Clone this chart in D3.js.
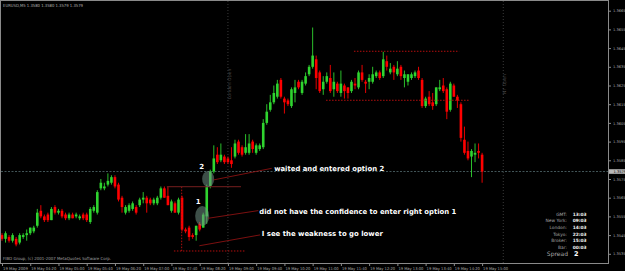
<!DOCTYPE html>
<html><head><meta charset="utf-8">
<script src="https://cdn.jsdelivr.net/npm/d3@7"></script>
<style>html,body{margin:0;padding:0;background:#000;overflow:hidden}svg{display:block}</style>
</head><body>
<svg id="c" width="625" height="271"></svg>
<script>
// ---- data (EURUSD M5, 19 May 2009, bars from 03:40 to 15:00) ----
const opens = [
1.3545,1.3543,1.3544,1.3542,1.3543,1.3541,1.3544,1.3545,1.3546,1.3547,
1.3550,1.3558,1.3555,1.3556,1.3553,1.3560,1.3557,1.3558,1.3556,1.3554,
1.3556,1.3555,1.3554,1.3556,1.3556,1.3552,1.3558,1.3557,1.3570,1.3570,
1.3572,1.3573,1.3576,1.3572,1.3565,1.3557,1.3558,1.3559,1.3560,1.3561,
1.3564,1.3565,1.3564,1.3562,1.3562,1.3565,1.3570,1.3566,1.3558,1.3562,
1.3557,1.3565,1.3548,1.3549,1.3545,1.3545,1.3551,1.3549,1.3555,1.3571,
1.3579,1.3588,1.3585,1.3587,1.3586,1.3585,1.3587,1.3595,1.3592,1.3589,
1.3589,1.3595,1.3589,1.3591,1.3592,1.3605,1.3612,1.3616,1.3619,1.3628,
1.3618,1.3617,1.3614,1.3621,1.3627,1.3621,1.3626,1.3631,1.3635,1.3639,
1.3632,1.3623,1.3627,1.3629,1.3623,1.3626,1.3621,1.3625,1.3624,1.3622,
1.3626,1.3624,1.3632,1.3627,1.3627,1.3627,1.3630,1.3632,1.3630,1.3638,
1.3632,1.3635,1.3631,1.3635,1.3629,1.3627,1.3629,1.3630,1.3633,1.3628,
1.3614,1.3619,1.3616,1.3615,1.3623,1.3625,1.3623,1.3612,1.3625,1.3619,
1.3615,1.3596,1.3590,1.3587,1.3588,1.3590,1.3588];
const highs = [
1.3546,1.3547,1.3545,1.3546,1.3544,1.3546,1.3546,1.3548,1.3549,1.3550,
1.3559,1.3561,1.3556,1.3557,1.3560,1.3561,1.3559,1.3559,1.3557,1.3557,
1.3557,1.3557,1.3556,1.3557,1.3557,1.3560,1.3561,1.3569,1.3575,1.3573,
1.3578,1.3577,1.3577,1.3573,1.3566,1.3561,1.3562,1.3563,1.3561,1.3565,
1.3568,1.3566,1.3565,1.3565,1.3566,1.3571,1.3571,1.3571,1.3564,1.3563,
1.3565,1.3566,1.3549,1.3550,1.3546,1.3550,1.3552,1.3557,1.3572,1.3580,
1.3593,1.3592,1.3594,1.3588,1.3587,1.3592,1.3596,1.3596,1.3593,1.3599,
1.3599,1.3596,1.3594,1.3594,1.3607,1.3615,1.3620,1.3625,1.3628,1.3629,
1.3619,1.3618,1.3624,1.3628,1.3628,1.3628,1.3632,1.3636,1.3656,1.3641,
1.3633,1.3630,1.3632,1.3636,1.3632,1.3627,1.3633,1.3626,1.3624,1.3628,
1.3629,1.3633,1.3636,1.3628,1.3631,1.3635,1.3633,1.3633,1.3643,1.3641,
1.3637,1.3636,1.3638,1.3636,1.3633,1.3631,1.3632,1.3633,1.3635,1.3629,
1.3619,1.3622,1.3621,1.3624,1.3628,1.3629,1.3624,1.3627,1.3626,1.3620,
1.3616,1.3603,1.3595,1.3591,1.3594,1.3594,1.3589];
const lows = [
1.3542,1.3541,1.3541,1.3541,1.3539,1.3540,1.3543,1.3542,1.3545,1.3546,
1.3549,1.3554,1.3552,1.3552,1.3553,1.3556,1.3556,1.3554,1.3553,1.3553,
1.3554,1.3554,1.3553,1.3553,1.3552,1.3551,1.3557,1.3556,1.3569,1.3569,
1.3571,1.3572,1.3570,1.3563,1.3557,1.3556,1.3557,1.3558,1.3556,1.3560,
1.3562,1.3557,1.3561,1.3561,1.3561,1.3564,1.3565,1.3561,1.3557,1.3557,
1.3556,1.3547,1.3546,1.3542,1.3543,1.3542,1.3547,1.3549,1.3551,1.3570,
1.3578,1.3583,1.3584,1.3583,1.3583,1.3581,1.3586,1.3588,1.3587,1.3588,
1.3588,1.3589,1.3588,1.3590,1.3591,1.3604,1.3611,1.3615,1.3618,1.3618,
1.3610,1.3614,1.3613,1.3616,1.3623,1.3620,1.3625,1.3630,1.3634,1.3623,
1.3621,1.3620,1.3626,1.3621,1.3619,1.3621,1.3619,1.3618,1.3618,1.3621,
1.3623,1.3623,1.3627,1.3621,1.3623,1.3626,1.3629,1.3628,1.3629,1.3633,
1.3631,1.3628,1.3630,1.3628,1.3624,1.3625,1.3628,1.3629,1.3628,1.3613,
1.3613,1.3614,1.3612,1.3614,1.3622,1.3621,1.3607,1.3611,1.3619,1.3613,
1.3595,1.3588,1.3585,1.3576,1.3584,1.3586,1.3573];
const closes = [
1.3543,1.3546,1.3542,1.3545,1.3540,1.3545,1.3545,1.3546,1.3549,1.3549,
1.3557,1.3555,1.3553,1.3553,1.3559,1.3557,1.3558,1.3555,1.3554,1.3556,
1.3554,1.3556,1.3555,1.3554,1.3553,1.3559,1.3560,1.3568,1.3573,1.3571,
1.3574,1.3576,1.3571,1.3564,1.3560,1.3560,1.3561,1.3562,1.3557,1.3564,
1.3565,1.3562,1.3562,1.3564,1.3565,1.3570,1.3565,1.3561,1.3563,1.3557,
1.3564,1.3548,1.3547,1.3544,1.3544,1.3550,1.3548,1.3556,1.3571,1.3579,
1.3586,1.3584,1.3588,1.3584,1.3584,1.3583,1.3594,1.3589,1.3588,1.3592,
1.3594,1.3591,1.3593,1.3593,1.3605,1.3611,1.3616,1.3621,1.3626,1.3619,
1.3616,1.3615,1.3623,1.3624,1.3624,1.3627,1.3630,1.3635,1.3641,1.3629,
1.3622,1.3627,1.3630,1.3622,1.3627,1.3622,1.3626,1.3622,1.3621,1.3627,
1.3625,1.3632,1.3628,1.3626,1.3629,1.3631,1.3632,1.3629,1.3639,1.3635,
1.3634,1.3632,1.3634,1.3630,1.3631,1.3631,1.3631,1.3632,1.3629,1.3614,
1.3618,1.3615,1.3614,1.3624,1.3624,1.3622,1.3611,1.3626,1.3619,1.3617,
1.3597,1.3589,1.3586,1.3590,1.3589,1.3589,1.3579];

const timeTickBars = [0,8,16,24,32,40,48,56,64,72,80,88,96,104,112,120,128,136];
const timeLabels = ["19 May 2009","19 May 04:20","19 May 05:00","19 May 05:40","19 May 06:20",
  "19 May 07:00","19 May 07:40","19 May 08:20","19 May 09:00","19 May 09:40","19 May 10:20",
  "19 May 11:00","19 May 11:40","19 May 12:20","19 May 13:00","19 May 13:40","19 May 14:20","19 May 15:00"];
const priceTicks = [1.3535,1.3545,1.3555,1.3565,1.3575,1.3585,1.3595,1.3605,1.3615,1.3625,1.3635,1.3645,1.3655,1.3665];
const lastPrice = 1.3579;
const titleText = "EURUSD,M5  1.3580 1.3580 1.3579 1.3579";
const copyrightText = "FIBO Group, (c) 2001-2007 MetaQuotes Software Corp.";

// vertical session lines
const sessionBars = [64, 142];
const sessionNames = ["London Open", "NY Open"];

// trend-line objects: [bar1, price1, bar2, price2]
const levelLines = [[99.7,1.36433,129.5,1.36433],[91.8,1.36171,132.6,1.36171],[48.7,1.35365,68.8,1.35365],[50.9,1.35709,50.9,1.35365]];
const solidLevel = [46.7,1.35709,67.7,1.35709];
const leaderLines = [[59.9,1.35745,76.4,1.35807],[58.4,1.35540,72.6,1.35581],[55.9,1.35393,73.1,1.35451]];
const noteTexts = ["waited and entered option 2","did not have the confidence to enter right option 1","I see the weakness to go lower"];
const noteBars = [77.1, 72.9, 73.6];
const notePrices = [1.35807, 1.35577, 1.35457];
const noteWidths = [110, 197, 121];
const markBars = [58.4, 56.7];
const markPrices = [1.35750, 1.35552];
const markLabels = ["2","1"];
const markLabelBars = [56.6, 55.6];
const markLabelPrices = [1.35814, 1.35627];

const infoLabels = ["GMT:","New York:","London:","Tokyo:","Broker:","Bar:"];
const infoValues = ["13:03","09:03","14:03","22:03","15:03","00:03"];
const spreadValue = "2";

// ---- drawing ----
const svg = d3.select("#c");
const PL = 1, PR = 608, PT = 1, PB = 263;
const x = d3.scaleLinear().domain([0,136]).range([2,482.1]);
const y = d3.scaleLinear().domain([1.3535,1.3665]).range([253.8,10.7]);
const bull = "#2fd42f", bear = "#ff0000";
const font = "'DejaVu Sans', Verdana, sans-serif";

svg.append("rect").attr("width",625).attr("height",271).attr("fill","#000");
svg.append("defs").append("clipPath").attr("id","clip")
  .append("rect").attr("x",PL).attr("y",PT).attr("width",PR-PL).attr("height",PB-PT);
const g = svg.append("g").attr("clip-path","url(#clip)");

// session vertical lines
sessionBars.forEach((b,k)=>{
  g.append("line").attr("x1",x(b)).attr("x2",x(b)).attr("y1",PT).attr("y2",PB)
    .attr("stroke","#3a3a3a").attr("stroke-dasharray","1,2");
  const cy = 84;
  g.append("text").attr("transform",`translate(${x(b)+3.2},${cy}) rotate(-90)`)
    .attr("text-anchor","middle").attr("font-family",font).attr("font-size",4.6)
    .attr("fill","#4a4a4a").text(sessionNames[k]);
});

// current price line
g.append("line").attr("x1",PL).attr("x2",PR).attr("y1",y(lastPrice)).attr("y2",y(lastPrice))
  .attr("stroke","#44575a").attr("stroke-dasharray","2,1.5");

// candles
const bars = d3.range(opens.length).map(i=>({i,o:opens[i],h:highs[i],l:lows[i],c:closes[i]}));
g.selectAll("line.wick").data(bars).join("line").attr("class","wick")
  .attr("x1",d=>x(d.i)).attr("x2",d=>x(d.i))
  .attr("y1",d=>y(d.h)).attr("y2",d=>y(d.l))
  .attr("stroke",d=>d.c>=d.o?bull:bear).attr("stroke-width",0.9);
g.selectAll("rect.body").data(bars).join("rect").attr("class","body")
  .attr("x",d=>x(d.i)-1.3).attr("width",2.6)
  .attr("y",d=>y(Math.max(d.o,d.c)))
  .attr("height",d=>Math.max(1,Math.abs(y(d.o)-y(d.c))))
  .attr("fill",d=>d.c>=d.o?bull:bear);

// level lines
levelLines.forEach(l=>{
  g.append("line").attr("x1",x(l[0])).attr("y1",y(l[1])).attr("x2",x(l[2])).attr("y2",y(l[3]))
    .attr("stroke","#c81010").attr("stroke-width",0.9).attr("stroke-dasharray","1.5,1.5");
});
g.append("line").attr("x1",x(solidLevel[0])).attr("y1",y(solidLevel[1]))
  .attr("x2",x(solidLevel[2])).attr("y2",y(solidLevel[3]))
  .attr("stroke","#5e1818").attr("stroke-width",1.2);

// highlight ellipses
markBars.forEach((b,k)=>{
  g.append("ellipse").attr("cx",x(b)).attr("cy",y(markPrices[k]))
    .attr("rx",k===0?6:7).attr("ry",k===0?8:10)
    .attr("fill","#6f8f84").attr("fill-opacity",0.55);
});
markLabels.forEach((t,k)=>{
  g.append("text").attr("x",x(markLabelBars[k])).attr("y",y(markLabelPrices[k]))
    .attr("dy","0.35em").attr("text-anchor","middle").attr("font-family",font)
    .attr("font-weight","bold").attr("font-size",7).attr("fill","#fff").text(t);
});

// leader lines
leaderLines.forEach(l=>{
  g.append("line").attr("x1",x(l[0])).attr("y1",y(l[1])).attr("x2",x(l[2])).attr("y2",y(l[3]))
    .attr("stroke","#9a1414").attr("stroke-width",0.8);
});
noteTexts.forEach((t,k)=>{
  g.append("text").attr("x",x(noteBars[k])).attr("y",y(notePrices[k])).attr("dy","0.35em")
    .attr("font-family",font).attr("font-weight","bold").attr("font-size",7)
    .attr("textLength",noteWidths[k]).attr("lengthAdjust","spacingAndGlyphs")
    .attr("fill","#fff").text(t);
});

// title & copyright
svg.append("text").attr("x",3).attr("y",6.5).attr("font-family",font).attr("font-size",4.2)
  .attr("fill","#b0b0b0").attr("textLength",80).attr("lengthAdjust","spacingAndGlyphs").text(titleText);
svg.append("text").attr("x",3).attr("y",259.5).attr("font-family",font).attr("font-size",4.2)
  .attr("fill","#a0a0a0").attr("textLength",108).attr("lengthAdjust","spacingAndGlyphs").text(copyrightText);

// info panel
infoLabels.forEach((t,k)=>{
  const yy = 214 + k*6.66;
  svg.append("text").attr("x",567).attr("y",yy).attr("dy","0.35em").attr("text-anchor","end")
    .attr("font-family",font).attr("font-size",4.4).attr("fill","#a8a8a8").text(t);
  svg.append("text").attr("x",572.7).attr("y",yy).attr("dy","0.35em")
    .attr("font-family",font).attr("font-size",4.4).attr("font-weight","bold").attr("fill","#f0f0f0").text(infoValues[k]);
});
svg.append("text").attr("x",568).attr("y",254).attr("dy","0.35em").attr("text-anchor","end")
  .attr("font-family",font).attr("font-size",6).attr("fill","#a8a8a8").text("Spread");
svg.append("text").attr("x",574).attr("y",254).attr("dy","0.35em")
  .attr("font-family",font).attr("font-size",6.5).attr("font-weight","bold").attr("fill","#fff").text(spreadValue);

// frame
svg.append("rect").attr("x",PL+0.5-1).attr("y",PT+0.5-1).attr("width",PR-PL+1).attr("height",PB-PT+1)
  .attr("fill","none").attr("stroke","#8a8a8a").attr("stroke-width",1);

// price axis
const yAxis = svg.append("g").attr("transform",`translate(${PR+0.5},0)`)
  .call(d3.axisRight(y).tickValues(priceTicks).tickSize(2.5).tickPadding(2).tickFormat(d3.format(".4f")));
yAxis.select(".domain").remove();
yAxis.selectAll("line").attr("stroke","#8a8a8a");
yAxis.selectAll("text").attr("font-family",font).attr("font-size",3.6).attr("fill","#a8a8a8");

// current price box
svg.append("rect").attr("x",609).attr("y",y(lastPrice)-2.3).attr("width",16).attr("height",4.6).attr("fill","#b8b8b8");
svg.append("text").attr("x",613.5).attr("y",y(lastPrice)).attr("dy","0.35em").attr("font-family",font)
  .attr("font-size",3.6).attr("fill","#000").text(d3.format(".4f")(lastPrice));

// time axis
const xAxis = svg.append("g").attr("transform",`translate(0,${PB+0.5})`)
  .call(d3.axisBottom(x).tickValues(timeTickBars).tickSize(2.5).tickPadding(1)
    .tickFormat((d,k)=>timeLabels[k]));
xAxis.select(".domain").remove();
xAxis.selectAll("line").attr("stroke","#8a8a8a");
xAxis.selectAll("text").attr("text-anchor","start").attr("x",0.5).attr("font-family",font)
  .attr("font-size",3.9).attr("fill","#a8a8a8").attr("textLength",25).attr("lengthAdjust","spacingAndGlyphs");
</script>
</body></html>
